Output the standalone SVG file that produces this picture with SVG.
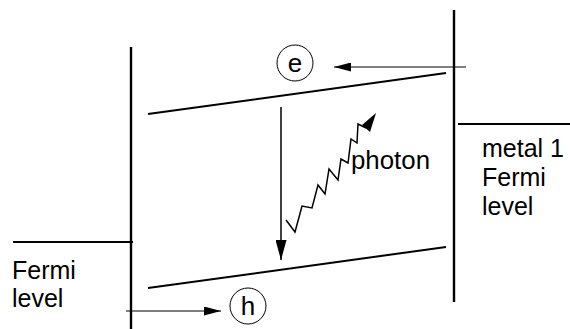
<svg xmlns="http://www.w3.org/2000/svg" width="570" height="329" viewBox="0 0 570 329">
<style>
.t{font-family:"Liberation Sans",Arial,sans-serif;font-size:25px;fill:#000}
.c{font-family:"Liberation Sans",Arial,sans-serif;font-size:26px;fill:#000;text-anchor:middle}
.thick{stroke:#000;stroke-width:2.4;fill:none}
.band{stroke:#000;stroke-width:2;fill:none}
.thin{stroke:#000;stroke-width:1;fill:none}
.circ{stroke:#000;stroke-width:1;fill:#fff}
</style>
<defs>
<marker id="ah" markerWidth="17" markerHeight="9" refX="17" refY="4.5" orient="auto" markerUnits="userSpaceOnUse">
<path d="M0,0 L17,4.5 L0,9 Z" fill="#000"/>
</marker>
<marker id="ahv" markerWidth="20" markerHeight="11" refX="20" refY="5.5" orient="auto" markerUnits="userSpaceOnUse">
<path d="M0,0 L20,5.5 L0,11 Z" fill="#000"/>
</marker>
</defs>
<g id="structure">
<line class="thick" x1="131" y1="47" x2="131" y2="329"/>
<line class="thick" x1="454" y1="10" x2="454" y2="302"/>
<line class="band" x1="148" y1="114" x2="446" y2="73"/>
<line class="band" x1="148" y1="288" x2="446" y2="247"/>
<line class="band" x1="13" y1="242" x2="133" y2="242"/>
<line class="band" x1="458" y1="124" x2="570" y2="124"/>
</g>
<g id="connectors">
<line class="thin" x1="466" y1="67" x2="334" y2="67" marker-end="url(#ah)"/>
<line class="thin" x1="126" y1="311" x2="221" y2="311" marker-end="url(#ah)"/>
<line stroke="#000" stroke-width="1.5" x1="281" y1="107" x2="281" y2="260" marker-end="url(#ahv)"/>
<polyline stroke="#000" stroke-width="1.5" fill="none" points="286,220 295,232 302,206 312,208 318,185 325,194 329,169 338,180 341,159 348,163 351,139 357,143 358,124 366,128"/>
<polygon points="376,113 362,125 370,132" fill="#000"/>
</g>
<g id="node-e">
<circle class="circ" cx="295" cy="63" r="18"/>
<text class="c" x="295" y="72">e</text>
</g>
<g id="node-h">
<circle class="circ" cx="248" cy="306" r="18"/>
<text class="c" x="248" y="315">h</text>
</g>
<g id="label-photon">
<text class="t" x="351" y="169" textLength="79" lengthAdjust="spacingAndGlyphs">photon</text>
</g>
<g id="label-left">
<text class="t" x="12" y="279">Fermi</text>
<text class="t" x="12" y="307">level</text>
</g>
<g id="label-right">
<text class="t" x="482" y="157">metal 1</text>
<text class="t" x="482" y="186">Fermi</text>
<text class="t" x="482" y="215">level</text>
</g>
</svg>
